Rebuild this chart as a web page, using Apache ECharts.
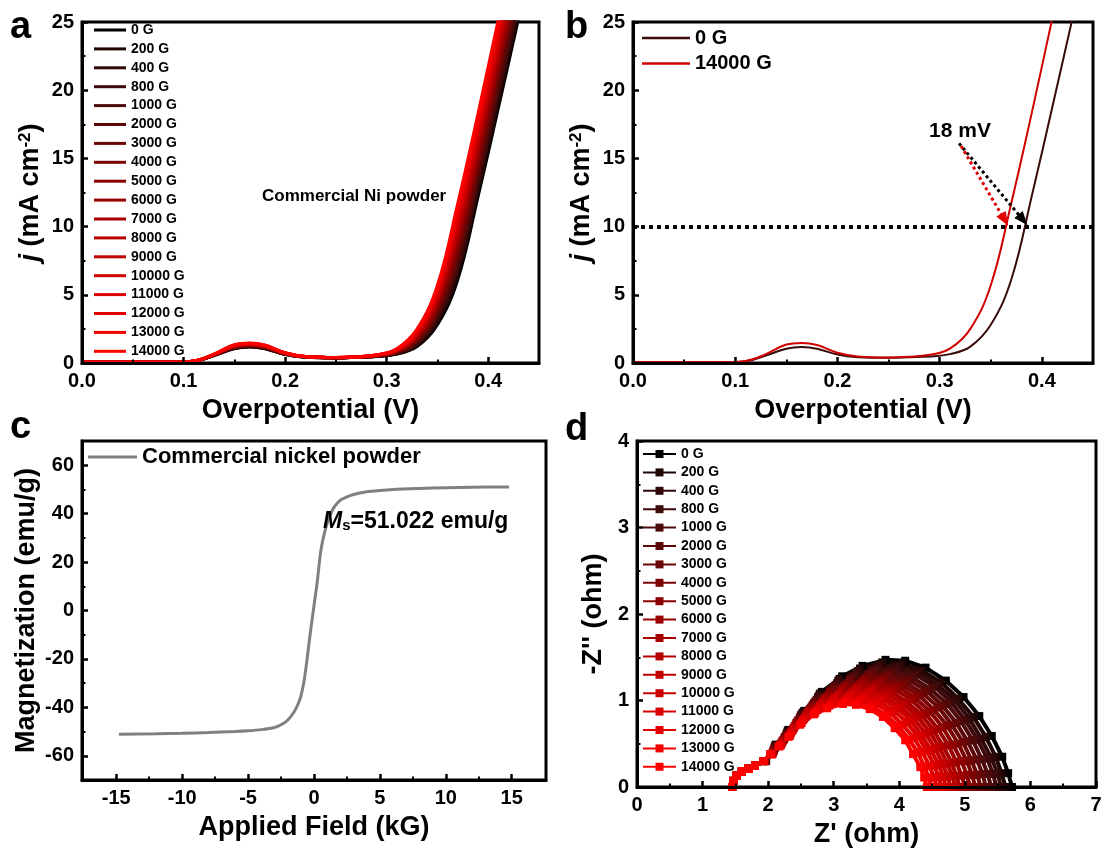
<!DOCTYPE html>
<html><head><meta charset="utf-8">
<script src="https://cdn.jsdelivr.net/npm/echarts@6/dist/echarts.min.js"></script>
<style>html,body{margin:0;padding:0;background:#fff}#c{width:1108px;height:850px}</style>
</head><body><div id="c"></div>
<script>
// ---------- categories ----------
const FIELDS = ['0 G','200 G','400 G','800 G','1000 G','2000 G','3000 G','4000 G','5000 G','6000 G','7000 G','8000 G','9000 G','10000 G','11000 G','12000 G','13000 G','14000 G'];
const COLORS = ['#000000','#200505','#300808','#3e0909','#4c0a0a','#5c0808','#6b0606','#7a0404','#8a0202','#990000','#a80000','#b60000','#c30000','#cf0000','#da0000','#e50000','#f10000','#ff0000'];

// ---------- panel a / b : LSV (overpotential V, j mA cm-2) ----------
const V_GRID = [0, 0.05, 0.09, 0.11, 0.13, 0.15, 0.165, 0.18, 0.20, 0.22, 0.25, 0.27, 0.29, 0.31, 0.33, 0.35, 0.37, 0.39, 0.41, 0.43, 0.45];
const J_0G     = [0.05,0.05,0.05,0.12,0.55,1.05,1.17,1.05,0.62,0.43,0.38,0.42,0.47,0.65,1.20,2.80,6.10,12.2,18.7,25.3,32.0];
const J_200G   = [0.05,0.05,0.05,0.12,0.56,1.07,1.19,1.07,0.63,0.43,0.38,0.42,0.48,0.67,1.28,2.97,6.43,12.6,19.1,25.7,32.4];
const J_400G   = [0.05,0.05,0.05,0.12,0.56,1.09,1.21,1.08,0.64,0.44,0.38,0.42,0.49,0.70,1.36,3.15,6.78,12.9,19.5,26.1,32.8];
const J_800G   = [0.05,0.05,0.05,0.12,0.57,1.10,1.22,1.10,0.64,0.44,0.38,0.43,0.49,0.72,1.44,3.32,7.10,13.3,19.9,26.5,33.3];
const J_1000G  = [0.05,0.05,0.05,0.12,0.57,1.12,1.24,1.11,0.65,0.44,0.38,0.43,0.50,0.75,1.52,3.50,7.45,13.7,20.3,26.9,33.7];
const J_2000G  = [0.05,0.05,0.05,0.13,0.58,1.14,1.26,1.13,0.66,0.45,0.39,0.43,0.51,0.77,1.59,3.67,7.78,14.0,20.7,27.3,34.1];
const J_3000G  = [0.05,0.05,0.05,0.13,0.59,1.16,1.28,1.15,0.67,0.45,0.39,0.43,0.52,0.79,1.67,3.85,8.10,14.4,21.1,27.7,34.5];
const J_4000G  = [0.05,0.05,0.05,0.13,0.59,1.18,1.30,1.16,0.67,0.45,0.39,0.43,0.52,0.82,1.75,4.00,8.45,14.8,21.5,28.1,34.9];
const J_5000G  = [0.05,0.05,0.05,0.13,0.60,1.19,1.31,1.18,0.68,0.45,0.39,0.44,0.53,0.84,1.82,4.20,8.80,15.1,21.8,28.5,35.4];
const J_6000G  = [0.05,0.05,0.05,0.13,0.60,1.21,1.33,1.19,0.69,0.46,0.39,0.44,0.54,0.87,1.90,4.40,9.10,15.5,22.2,28.9,35.8];
const J_7000G  = [0.05,0.05,0.05,0.13,0.61,1.23,1.35,1.21,0.70,0.46,0.39,0.44,0.55,0.89,1.98,4.55,9.45,15.9,22.6,29.3,36.2];
const J_8000G  = [0.05,0.05,0.05,0.13,0.62,1.25,1.37,1.23,0.71,0.46,0.39,0.44,0.56,0.91,2.06,4.70,9.80,16.2,23.0,29.7,36.6];
const J_9000G  = [0.05,0.05,0.05,0.13,0.62,1.27,1.39,1.24,0.71,0.47,0.39,0.44,0.56,0.94,2.14,4.90,10.1,16.6,23.4,30.1,37.0];
const J_10000G = [0.05,0.05,0.05,0.14,0.63,1.28,1.40,1.26,0.72,0.47,0.40,0.44,0.57,0.96,2.20,5.05,10.4,16.9,23.7,30.5,37.4];
const J_11000G = [0.05,0.05,0.05,0.14,0.63,1.30,1.42,1.27,0.73,0.47,0.40,0.45,0.58,0.98,2.27,5.20,10.7,17.2,24.0,30.8,37.8];
const J_12000G = [0.05,0.05,0.05,0.14,0.64,1.31,1.43,1.29,0.74,0.48,0.40,0.45,0.59,1.00,2.35,5.40,11.05,17.6,24.4,31.2,38.2];
const J_13000G = [0.05,0.05,0.05,0.14,0.64,1.33,1.45,1.30,0.74,0.48,0.40,0.45,0.59,1.03,2.42,5.55,11.4,17.9,24.8,31.6,38.6];
const J_14000G = [0.05,0.05,0.05,0.14,0.65,1.35,1.47,1.32,0.75,0.48,0.40,0.45,0.60,1.05,2.50,5.70,11.7,18.3,25.2,32.0,39.0];
const LSV_J = [J_0G,J_200G,J_400G,J_800G,J_1000G,J_2000G,J_3000G,J_4000G,J_5000G,J_6000G,J_7000G,J_8000G,J_9000G,J_10000G,J_11000G,J_12000G,J_13000G,J_14000G];

const X_TICKS_AB = [0, 0.1, 0.2, 0.3, 0.4];
const X_MINOR_AB = [0.05, 0.15, 0.25, 0.35];
const J_REF = 10;
const ARROW_0G = [[0.319, 16.1], [0.3815, 10.5]];
const ARROW_14000G = [[0.321, 15.9], [0.3635, 10.5]];

// ---------- panel c : M-H ----------
const H_KG  = [-14.8,-12,-10,-8,-6,-5,-4,-3,-2.5,-2,-1.5,-1.2,-1,-0.75,-0.5,-0.25,0,0.25,0.5,0.75,1,1.2,1.5,2,2.5,3,4,5,6,8,10,12,14.8];
const M_EMU = [-51.1,-50.9,-50.7,-50.4,-50.0,-49.7,-49.2,-48.3,-47.2,-45.3,-41.8,-38.5,-35.5,-29,-19,-8,2,12,24,31,36,39,42.5,45.6,46.9,47.9,49.0,49.6,50.0,50.4,50.7,50.9,51.0];
const X_TICKS_C = [-15,-10,-5,0,5,10,15];
const X_MINOR_C = [-12.5,-7.5,-2.5,2.5,7.5,12.5];
const Y_TICKS_C = [-60,-40,-20,0,20,40,60];
const Y_MINOR_C = [-50,-30,-10,10,30,50];

// ---------- panel d : Nyquist (Z', -Z'') ----------
const Z_HEAD = [[1.45,0.0],[1.47,0.07],[1.52,0.13],[1.6,0.18],[1.7,0.21],[1.8,0.25]];
const Z_0G = [[1.97,0.3],[2.12,0.49],[2.31,0.66],[2.55,0.88],[2.82,1.10],[3.13,1.28],[3.44,1.40],[3.79,1.47],[4.09,1.46],[4.40,1.38],[4.71,1.23],[4.98,1.04],[5.22,0.82],[5.41,0.59],[5.57,0.35],[5.66,0.16],[5.72,0]];
const Z_200G = [[1.96,0.3],[2.11,0.48],[2.30,0.65],[2.53,0.86],[2.79,1.08],[3.09,1.25],[3.40,1.37],[3.74,1.44],[4.04,1.43],[4.34,1.35],[4.64,1.21],[4.90,1.02],[5.13,0.81],[5.32,0.58],[5.47,0.35],[5.56,0.16],[5.62,0]];
const Z_400G = [[1.96,0.3],[2.11,0.47],[2.29,0.63],[2.52,0.85],[2.78,1.06],[3.07,1.23],[3.37,1.34],[3.70,1.41],[4.00,1.40],[4.29,1.33],[4.59,1.18],[4.85,1.00],[5.07,0.79],[5.25,0.56],[5.40,0.34],[5.50,0.16],[5.55,0]];
const Z_800G = [[1.96,0.3],[2.10,0.46],[2.29,0.62],[2.50,0.83],[2.76,1.04],[3.05,1.20],[3.34,1.31],[3.67,1.38],[3.96,1.37],[4.25,1.30],[4.54,1.16],[4.79,0.98],[5.01,0.77],[5.19,0.55],[5.34,0.33],[5.43,0.15],[5.48,0]];
const Z_1000G = [[1.96,0.3],[2.10,0.45],[2.28,0.61],[2.49,0.81],[2.74,1.01],[3.02,1.17],[3.31,1.28],[3.63,1.35],[3.91,1.34],[4.19,1.27],[4.48,1.13],[4.73,0.96],[4.94,0.76],[5.12,0.54],[5.26,0.32],[5.35,0.15],[5.40,0]];
const Z_2000G = [[1.95,0.3],[2.09,0.44],[2.27,0.59],[2.48,0.79],[2.72,0.99],[3.00,1.15],[3.27,1.25],[3.59,1.32],[3.86,1.31],[4.14,1.24],[4.42,1.11],[4.66,0.94],[4.87,0.74],[5.04,0.53],[5.18,0.32],[5.27,0.15],[5.32,0]];
const Z_3000G = [[1.95,0.3],[2.09,0.43],[2.26,0.58],[2.46,0.77],[2.70,0.97],[2.97,1.12],[3.24,1.23],[3.55,1.29],[3.82,1.28],[4.09,1.21],[4.36,1.08],[4.60,0.92],[4.80,0.72],[4.97,0.52],[5.10,0.31],[5.19,0.14],[5.24,0]];
const Z_4000G = [[1.95,0.3],[2.08,0.42],[2.25,0.57],[2.45,0.76],[2.68,0.95],[2.94,1.10],[3.21,1.20],[3.51,1.26],[3.77,1.25],[4.04,1.18],[4.30,1.06],[4.53,0.89],[4.73,0.71],[4.90,0.50],[5.03,0.30],[5.11,0.14],[5.16,0]];
const Z_5000G = [[1.95,0.3],[2.08,0.41],[2.24,0.55],[2.43,0.74],[2.66,0.92],[2.92,1.07],[3.17,1.17],[3.47,1.23],[3.72,1.22],[3.98,1.16],[4.24,1.03],[4.47,0.87],[4.66,0.69],[4.82,0.49],[4.95,0.30],[5.03,0.14],[5.08,0]];
const Z_6000G = [[1.95,0.3],[2.07,0.40],[2.23,0.54],[2.42,0.72],[2.64,0.90],[2.89,1.04],[3.14,1.14],[3.43,1.20],[3.68,1.19],[3.93,1.13],[4.18,1.01],[4.40,0.85],[4.59,0.67],[4.75,0.48],[4.87,0.29],[4.95,0.13],[5.00,0]];
const Z_7000G = [[1.94,0.3],[2.07,0.39],[2.22,0.53],[2.40,0.70],[2.62,0.88],[2.86,1.02],[3.11,1.11],[3.39,1.17],[3.63,1.16],[3.88,1.10],[4.12,0.98],[4.34,0.83],[4.52,0.66],[4.67,0.47],[4.80,0.28],[4.87,0.13],[4.92,0]];
const Z_8000G = [[1.94,0.3],[2.06,0.38],[2.21,0.51],[2.39,0.68],[2.60,0.86],[2.84,0.99],[3.08,1.08],[3.35,1.14],[3.59,1.13],[3.83,1.07],[4.07,0.96],[4.28,0.81],[4.46,0.64],[4.61,0.46],[4.73,0.27],[4.81,0.13],[4.85,0]];
const Z_9000G = [[1.94,0.3],[2.06,0.38],[2.20,0.50],[2.38,0.67],[2.58,0.83],[2.82,0.97],[3.05,1.05],[3.32,1.11],[3.55,1.10],[3.78,1.04],[4.02,0.93],[4.22,0.79],[4.40,0.62],[4.55,0.44],[4.66,0.27],[4.74,0.12],[4.78,0]];
const Z_10000G = [[1.94,0.3],[2.05,0.38],[2.19,0.49],[2.37,0.65],[2.57,0.81],[2.79,0.94],[3.02,1.03],[3.28,1.08],[3.51,1.07],[3.74,1.02],[3.97,0.91],[4.17,0.77],[4.34,0.60],[4.48,0.43],[4.60,0.26],[4.67,0.12],[4.71,0]];
const Z_11000G = [[1.93,0.3],[2.05,0.38],[2.19,0.48],[2.35,0.63],[2.55,0.79],[2.77,0.91],[2.99,1.00],[3.25,1.05],[3.47,1.04],[3.69,0.99],[3.92,0.88],[4.11,0.75],[4.28,0.59],[4.42,0.42],[4.53,0.25],[4.60,0.12],[4.64,0]];
const Z_12000G = [[1.93,0.3],[2.04,0.38],[2.18,0.48],[2.34,0.61],[2.53,0.77],[2.75,0.89],[2.97,0.97],[3.21,1.02],[3.43,1.01],[3.65,0.96],[3.86,0.86],[4.05,0.72],[4.22,0.57],[4.35,0.41],[4.46,0.24],[4.53,0.11],[4.57,0]];
const Z_13000G = [[1.93,0.3],[2.04,0.38],[2.17,0.47],[2.33,0.59],[2.51,0.74],[2.72,0.86],[2.93,0.94],[3.17,0.99],[3.38,0.98],[3.59,0.93],[3.80,0.83],[3.99,0.70],[4.15,0.55],[4.28,0.40],[4.38,0.24],[4.45,0.11],[4.49,0]];
const Z_14000G = [[1.93,0.3],[2.03,0.38],[2.16,0.47],[2.31,0.58],[2.49,0.72],[2.70,0.84],[2.90,0.91],[3.14,0.96],[3.34,0.95],[3.55,0.90],[3.75,0.81],[3.93,0.68],[4.09,0.54],[4.21,0.38],[4.32,0.23],[4.38,0.11],[4.42,0]];
const NYQ = [Z_0G,Z_200G,Z_400G,Z_800G,Z_1000G,Z_2000G,Z_3000G,Z_4000G,Z_5000G,Z_6000G,Z_7000G,Z_8000G,Z_9000G,Z_10000G,Z_11000G,Z_12000G,Z_13000G,Z_14000G];

// ---------- chart ----------
const FONT = "'Liberation Sans', Arial, Helvetica, sans-serif";
const K = '#000';
const chart = echarts.init(document.getElementById('c'), null, {renderer: 'canvas', width: 1108, height: 850});

function tickStyle(len, w) { return {show: true, inside: true, length: len, lineStyle: {color: K, width: w}}; }
const LABEL = {color: K, fontSize: 20, fontWeight: 'bold', fontFamily: FONT, margin: 8};
const NAME_STYLE = {color: K, fontSize: 27, fontWeight: 'bold', fontFamily: FONT,
  rich: {i: {fontStyle: 'italic', fontWeight: 'bold', fontSize: 27, fontFamily: FONT, color: K},
         s: {fontWeight: 'bold', fontSize: 17, fontFamily: FONT, color: K, verticalAlign: 'top'}}};

function mainAxis(o) {
  return Object.assign({
    type: 'value', gridIndex: o.grid, min: o.min, max: o.max, position: o.pos,
    axisLine: {show: true, onZero: false, lineStyle: {color: K, width: 3}},
    axisTick: Object.assign(tickStyle(6, 2.5), o.ticks ? {customValues: o.ticks} : {}),
    minorTick: o.minor ? {show: true, splitNumber: 2, length: 3.5, lineStyle: {color: K, width: 2}} : {show: false},
    axisLabel: Object.assign({}, LABEL, o.labelExtra || {}, o.ticks ? {customValues: o.ticks} : {}),
    splitLine: {show: false}, minorSplitLine: {show: false},
    name: o.name, nameLocation: 'middle', nameGap: o.nameGap, nameTextStyle: NAME_STYLE, z: 5
  }, o.interval !== undefined ? {interval: o.interval} : {});
}
function minorAxis(o) {
  return {type: 'value', gridIndex: o.grid, min: o.min, max: o.max, position: o.pos, offset: 0,
    axisLine: {show: false, onZero: false}, axisLabel: {show: false}, splitLine: {show: false},
    axisTick: Object.assign(tickStyle(3.5, 2), {customValues: o.ticks}), z: 5};
}

const GRIDS = [
  {left: 82, top: 22, width: 457, height: 341},
  {left: 633, top: 22, width: 460, height: 341},
  {left: 82, top: 441, width: 464, height: 339},
  {left: 637, top: 441, width: 459, height: 346}
].map(g => Object.assign({show: true, borderColor: K, borderWidth: 3, backgroundColor: 'transparent', containLabel: false}, g));

const xAxis = [
  mainAxis({grid: 0, min: 0, max: 0.45, pos: 'bottom', ticks: X_TICKS_AB, name: 'Overpotential (V)', nameGap: 34, labelExtra: {formatter: v => v.toFixed(1)}}),
  minorAxis({grid: 0, min: 0, max: 0.45, pos: 'bottom', ticks: X_MINOR_AB}),
  mainAxis({grid: 1, min: 0, max: 0.45, pos: 'bottom', ticks: X_TICKS_AB, name: 'Overpotential (V)', nameGap: 34, labelExtra: {formatter: v => v.toFixed(1)}}),
  minorAxis({grid: 1, min: 0, max: 0.45, pos: 'bottom', ticks: X_MINOR_AB}),
  mainAxis({grid: 2, min: -17.6, max: 17.6, pos: 'bottom', ticks: X_TICKS_C, name: 'Applied Field (kG)', nameGap: 34}),
  minorAxis({grid: 2, min: -17.6, max: 17.6, pos: 'bottom', ticks: X_MINOR_C}),
  mainAxis({grid: 3, min: 0, max: 7, interval: 1, minor: true, pos: 'bottom', name: "Z' (ohm)", nameGap: 34})
];
const yAxis = [
  mainAxis({grid: 0, min: 0, max: 25, interval: 5, minor: true, pos: 'left', name: '{i|j} (mA cm{s|-2})', nameGap: 38}),
  mainAxis({grid: 1, min: 0, max: 25, interval: 5, minor: true, pos: 'left', name: '{i|j} (mA cm{s|-2})', nameGap: 38}),
  mainAxis({grid: 2, min: -70, max: 70, pos: 'left', ticks: Y_TICKS_C, name: 'Magnetization (emu/g)', nameGap: 42}),
  minorAxis({grid: 2, min: -70, max: 70, pos: 'left', ticks: Y_MINOR_C}),
  mainAxis({grid: 3, min: 0, max: 4, interval: 1, minor: true, pos: 'left', name: "-Z'' (ohm)", nameGap: 30})
];

const series = [];
FIELDS.forEach((f, k) => {
  series.push({name: f, type: 'line', xAxisIndex: 0, yAxisIndex: 0, symbol: 'none', smooth: 0.4,
    data: V_GRID.map((v, i) => [v, LSV_J[k][i]]), lineStyle: {width: 3, color: COLORS[k]}, itemStyle: {color: COLORS[k]},
    z: 2, clip: true, silent: true});
});
const B_DARK = '#3a0b0b', B_RED = '#d00000';
series.push({name: 'b:0 G', type: 'line', xAxisIndex: 2, yAxisIndex: 1, symbol: 'none', smooth: 0.4,
  data: V_GRID.map((v, i) => [v, J_0G[i]]), lineStyle: {width: 2, color: B_DARK}, itemStyle: {color: B_DARK}, clip: true, z: 3,
  markLine: {silent: true, animation: false, symbol: ['none', 'triangle'], symbolSize: [11, 14], label: {show: false},
    data: [
      [{coord: [0, J_REF], symbol: 'none', lineStyle: {color: K, width: 4, type: [4, 4]}}, {coord: [0.45, J_REF], symbol: 'none'}],
      [{coord: ARROW_0G[0], lineStyle: {color: K, width: 3, type: [3, 3]}, itemStyle: {color: K}}, {coord: ARROW_0G[1], itemStyle: {color: K}}]
    ]}});
series.push({name: 'b:14000 G', type: 'line', xAxisIndex: 2, yAxisIndex: 1, symbol: 'none', smooth: 0.4,
  data: V_GRID.map((v, i) => [v, J_14000G[i]]), lineStyle: {width: 2, color: B_RED}, itemStyle: {color: B_RED}, clip: true, z: 3,
  markLine: {silent: true, animation: false, symbol: ['none', 'triangle'], symbolSize: [11, 14], label: {show: false},
    data: [
      [{coord: ARROW_14000G[0], lineStyle: {color: '#e00000', width: 3, type: [3, 3]}, itemStyle: {color: '#e00000'}}, {coord: ARROW_14000G[1], itemStyle: {color: '#e00000'}}]
    ]}});
series.push({name: 'c:Commercial nickel powder', type: 'line', xAxisIndex: 4, yAxisIndex: 2, symbol: 'none', smooth: 0.3,
  data: H_KG.map((h, i) => [h, M_EMU[i]]), lineStyle: {width: 3, color: '#808080'}, itemStyle: {color: '#808080'}, clip: true});
FIELDS.forEach((f, k) => {
  series.push({name: 'd:' + f, type: 'line', xAxisIndex: 6, yAxisIndex: 4, symbol: 'rect', symbolSize: 8, showSymbol: true,
    data: Z_HEAD.concat(NYQ[k]), lineStyle: {width: 4, color: COLORS[k]}, itemStyle: {color: COLORS[k]}, clip: true, z: 2});
});

const LEG_TEXT = (fs) => ({color: K, fontSize: fs, fontWeight: 'bold', fontFamily: FONT, lineHeight: fs});
const stripPrefix = n => n.replace(/^[bcd]:/, '');
const legend = [
  {data: FIELDS, icon: 'rect', left: 94, top: 23, orient: 'vertical', itemWidth: 32, itemHeight: 3, itemGap: 4.9, padding: 0, selectedMode: false, textStyle: LEG_TEXT(14)},
  {data: ['b:0 G', 'b:14000 G'], icon: 'rect', formatter: stripPrefix, left: 642, top: 28, orient: 'vertical', itemWidth: 48, itemHeight: 2.5, itemGap: 5.6, padding: 0, selectedMode: false, textStyle: LEG_TEXT(20)},
  {data: ['c:Commercial nickel powder'], icon: 'rect', formatter: stripPrefix, left: 88, top: 446, orient: 'vertical', itemWidth: 49, itemHeight: 3, itemGap: 4, padding: 0, selectedMode: false, textStyle: LEG_TEXT(22)},
  {data: FIELDS.map(f => 'd:' + f), formatter: stripPrefix, left: 642, top: 447, orient: 'vertical', itemWidth: 33, itemHeight: 10, itemGap: 4.4, padding: 0, selectedMode: false, textStyle: Object.assign(LEG_TEXT(14), {lineHeight: 14})}
];

const T = (x, y, text, fs, extra) => ({type: 'text', x: x, y: y, silent: true, z: 10,
  style: Object.assign({text: text, fill: K, font: 'bold ' + fs + 'px ' + FONT, align: 'left', verticalAlign: 'middle'}, extra || {})});
const graphic = [
  T(10, 28, 'a', 38), T(565, 28, 'b', 38), T(10, 428, 'c', 38), T(565, 430, 'd', 38),
  T(262, 196, 'Commercial Ni powder', 17),
  T(960, 131, '18 mV', 21, {align: 'center'}),
  T(323, 522, '{i|M}{s|s}{n|=51.022 emu/g}', 23, {rich: {
    i: {font: 'italic bold 23px ' + FONT, fill: K},
    s: {font: 'bold 15px ' + FONT, fill: K, verticalAlign: 'bottom'},
    n: {font: 'bold 23px ' + FONT, fill: K}}})
];

chart.setOption({animation: false, backgroundColor: '#fff', grid: GRIDS, xAxis: xAxis, yAxis: yAxis, legend: legend, series: series, graphic: graphic});
</script></body></html>
